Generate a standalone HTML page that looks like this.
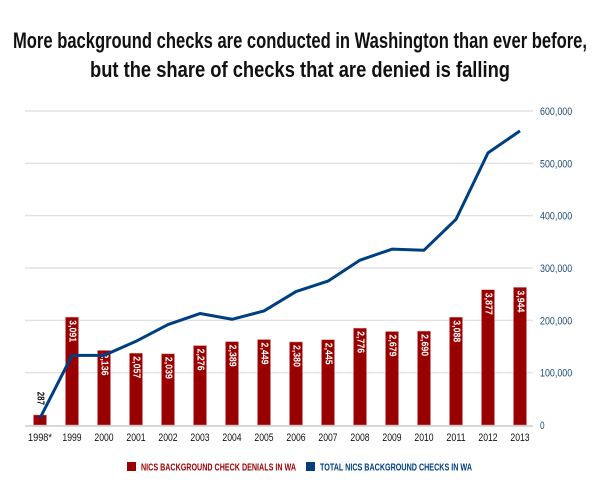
<!DOCTYPE html>
<html><head><meta charset="utf-8"><style>
html,body{margin:0;padding:0;background:#fff;}
svg{display:block;font-family:"Liberation Sans Narrow","Liberation Sans",sans-serif;}
</style></head><body>
<svg id="c" width="600" height="500" viewBox="0 0 600 500">
<text x="300" y="48" text-anchor="middle" font-size="22" font-weight="bold" fill="#111" textLength="574" lengthAdjust="spacingAndGlyphs">More background checks are conducted in Washington than ever before,</text>
<text x="300" y="77" text-anchor="middle" font-size="22" font-weight="bold" fill="#111" textLength="420" lengthAdjust="spacingAndGlyphs">but the share of checks that are denied is falling</text>
<g id="grid"></g><g id="bars"></g><g id="line"></g><g id="xaxis"></g><g id="yaxis"></g>
<g>
<rect x="127" y="462" width="9" height="9" fill="#990000"/>
<text x="141" y="470.5" font-size="10" font-weight="bold" fill="#990000" textLength="155" lengthAdjust="spacingAndGlyphs">NICS BACKGROUND CHECK DENIALS IN WA</text>
<rect x="306" y="462" width="9" height="9" fill="#003f7f"/>
<text x="320" y="470.5" font-size="10" font-weight="bold" fill="#003f7f" textLength="152" lengthAdjust="spacingAndGlyphs">TOTAL NICS BACKGROUND CHECKS IN WA</text>
</g>
</svg>
<script>
const categories=["1998*","1999","2000","2001","2002","2003","2004","2005","2006","2007","2008","2009","2010","2011","2012","2013"];
const denials=[287,3091,2136,2057,2039,2276,2389,2449,2380,2445,2776,2679,2690,3088,3877,3944];
const totals=[13000,133000,133000,160000,192000,213000,202000,218000,255000,275000,315000,336000,334000,393000,520000,562000];
const rightTicks=[0,100000,200000,300000,400000,500000,600000];
const rightTickLabels=["0","100,000","200,000","300,000","400,000","500,000","600,000"];
const NS="http://www.w3.org/2000/svg";
const x0=25,x1=533,yBase=425,yTop=111;
const xc=i=>40+i*((520-40)/(categories.length-1));
const yR=v=>yBase-(v/600000)*(yBase-yTop);
const yL=v=>yBase-(v/9000)*(yBase-yTop);
function mk(tag,attrs,parent){const e=document.createElementNS(NS,tag);for(const k in attrs)e.setAttribute(k,attrs[k]);document.getElementById(parent).appendChild(e);return e;}
rightTicks.forEach((t,i)=>{
  if(t>0){const g=mk('line',{x1:x0,x2:x1,y1:yR(t),y2:yR(t),stroke:'#e2e2e2','stroke-width':1.5},'grid');
  
  }
  const lab=rightTickLabels[i];
  const l=mk('text',{x:540,y:yR(t)+4,'font-size':11,fill:'#1f4e79',textLength:lab.length*4.6,lengthAdjust:'spacingAndGlyphs'},'yaxis');
  l.textContent=lab;
  
  
});
const ax=mk('line',{x1:x0,x2:x1,y1:yBase+1,y2:yBase+1,stroke:'#cccccc','stroke-width':1.5},'xaxis');


categories.forEach((c,i)=>{
  const x=xc(i),y=yL(denials[i]);
  const b=mk('rect',{x:x-6.5,y:y,width:13,height:yBase-y,fill:'#990000',stroke:'#d88','stroke-width':0.5},'bars');
  
  
  const lab=denials[i].toLocaleString('en-US');
  const len=lab.length*4.4;
  let t;
  if(i===0){t=mk('text',{x:x,y:y-10,'font-size':10,'font-weight':'bold',fill:'#111',transform:`rotate(90 ${x} ${y-10})`,'text-anchor':'end','dominant-baseline':'central',textLength:len,lengthAdjust:'spacingAndGlyphs'},'bars');}
  else{t=mk('text',{x:x,y:y+3,'font-size':10,'font-weight':'bold',fill:'#fff',transform:`rotate(90 ${x} ${y+3})`,'dominant-baseline':'central',textLength:len,lengthAdjust:'spacingAndGlyphs'},'bars');}
  t.textContent=lab;
  
  
  const xl=mk('text',{x:x,y:441,'font-size':11,'text-anchor':'middle',fill:'#111',textLength:c.length*4.8,lengthAdjust:'spacingAndGlyphs'},'xaxis');
  xl.textContent=c;
  
  
});
const p=mk('polyline',{points:totals.map((v,i)=>xc(i)+','+yR(v)).join(' '),fill:'none',stroke:'#003f7f','stroke-width':3,'stroke-linejoin':'round'},'line');


</script>
</body></html>
